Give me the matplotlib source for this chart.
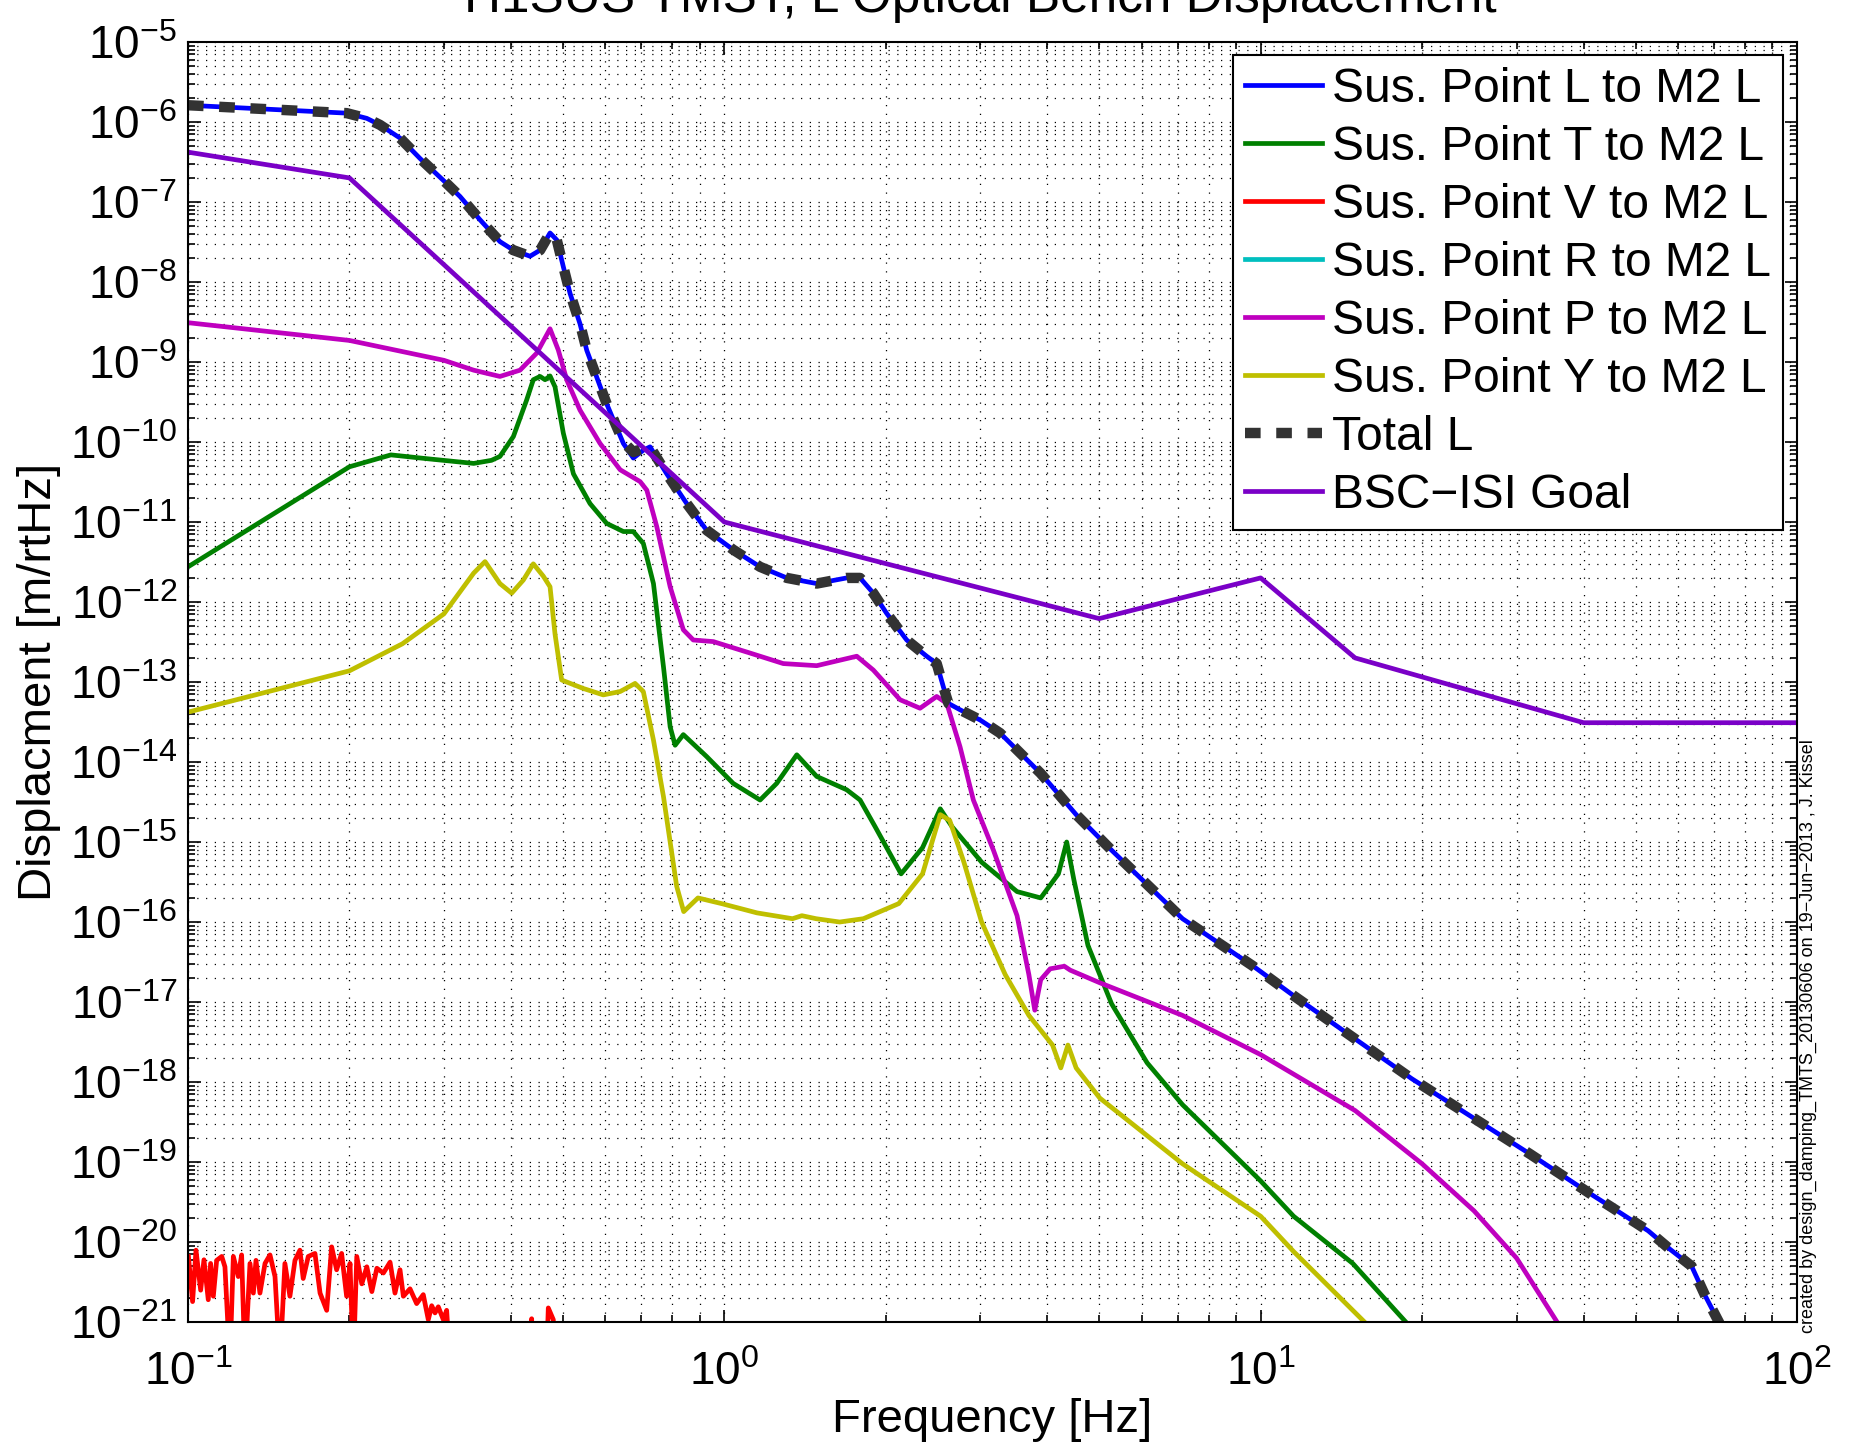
import matplotlib
matplotlib.use("Agg")
import matplotlib.pyplot as plt
from matplotlib.ticker import LogLocator, NullFormatter
import numpy as np

plt.rcParams["font.family"] = ["Liberation Sans", "DejaVu Sans"]
plt.rcParams["mathtext.fontset"] = "custom"
plt.rcParams["mathtext.rm"] = "Liberation Sans"
plt.rcParams["mathtext.it"] = "Liberation Sans"
plt.rcParams["mathtext.bf"] = "Liberation Sans"

# === Data (frequency [Hz], displacement [m/rtHz]) ===
l_freq = [0.1, 0.1977, 0.2155, 0.228, 0.2485, 0.2708, 0.3037, 0.3216, 0.3503, 0.3816,
          0.4043, 0.4343, 0.4534, 0.4732, 0.4872, 0.501, 0.5157, 0.5382, 0.554, 0.5865,
          0.6035, 0.6483, 0.6766, 0.7063, 0.727, 0.781, 0.851, 0.927, 1.039, 1.166,
          1.308, 1.487, 1.691, 1.791, 1.896, 2.008, 2.188, 2.384, 2.489, 2.561,
          2.617, 2.751, 2.999, 3.267, 3.89, 4.529, 5.273, 7.151, 9.69, 11.52,
          19.13, 31.78, 40.96, 45.0, 52.8, 58.0, 63.6, 67.5, 71.5, 75.0]
l_vals = [1.62e-6, 1.29e-6, 1.11e-6, 9.2e-7, 6.3e-7, 3.5e-7, 1.7e-7, 1.17e-7, 6.0e-8, 3.2e-8,
          2.5e-8, 2.1e-8, 2.5e-8, 4.1e-8, 3.35e-8, 1.55e-8, 7.2e-9, 3.0e-9, 1.4e-9, 5.0e-10,
          3.0e-10, 9.6e-11, 6.3e-11, 7.9e-11, 8.7e-11, 4.0e-11, 1.7e-11, 7.9e-12, 4.5e-12, 2.75e-12,
          2.0e-12, 1.7e-12, 2.0e-12, 2.0e-12, 1.29e-12, 7.2e-13, 3.35e-13, 2.1e-13, 1.7e-13, 8.7e-14,
          5.4e-14, 4.5e-14, 3.35e-14, 2.3e-14, 7.2e-15, 2.2e-15, 7.9e-16, 1.1e-16, 2.8e-17, 1.2e-17,
          1.1e-18, 1.26e-19, 4.1e-20, 2.75e-20, 1.38e-20, 8.1e-21, 5.0e-21, 2.1e-21, 1.0e-21, 5e-22]

total_freq = l_freq
total_vals = [1.62e-6, 1.29e-6, 1.11e-6, 9.2e-7, 6.3e-7, 3.5e-7, 1.7e-7, 1.17e-7, 6.0e-8, 3.2e-8,
              2.5e-8, 2.1e-8, 2.5e-8, 4.1e-8, 3.35e-8, 1.55e-8, 7.2e-9, 3.0e-9, 1.4e-9, 5.0e-10,
              3.0e-10, 1.0e-10, 7.5e-11, 8.3e-11, 8.7e-11, 4.0e-11, 1.7e-11, 7.9e-12, 4.5e-12, 2.75e-12,
              2.0e-12, 1.7e-12, 2.0e-12, 2.0e-12, 1.29e-12, 7.2e-13, 3.35e-13, 2.1e-13, 1.7e-13, 8.7e-14,
              5.4e-14, 4.5e-14, 3.35e-14, 2.3e-14, 7.2e-15, 2.2e-15, 7.9e-16, 1.1e-16, 2.8e-17, 1.2e-17,
              1.1e-18, 1.26e-19, 4.1e-20, 2.75e-20, 1.38e-20, 8.1e-21, 5.0e-21, 2.1e-21, 1.0e-21, 5e-22]

t_freq = [0.1, 0.2, 0.239, 0.278, 0.341, 0.368, 0.3816, 0.4043, 0.428, 0.4404,
          0.4534, 0.4632, 0.4732, 0.4834, 0.501, 0.5232, 0.5618, 0.6035, 0.6483, 0.6766,
          0.7063, 0.7377, 0.7701, 0.7925, 0.8096, 0.8386, 0.927, 1.039, 1.166, 1.252,
          1.365, 1.487, 1.691, 1.791, 1.911, 2.136, 2.342, 2.527, 2.659, 3.018,
          3.514, 3.89, 4.197, 4.349, 4.484, 4.764, 5.273, 6.141, 7.151, 10.0,
          11.52, 14.85, 18.65, 20.0]
t_vals = [2.75e-12, 4.9e-11, 6.9e-11, 6.2e-11, 5.4e-11, 5.9e-11, 6.6e-11, 1.17e-10, 3.35e-10, 6.0e-10,
          6.6e-10, 6.0e-10, 6.7e-10, 4.9e-10, 1.29e-10, 4.0e-11, 1.7e-11, 9.6e-12, 7.6e-12, 7.6e-12,
          5.4e-12, 1.7e-12, 1.55e-13, 2.75e-14, 1.62e-14, 2.2e-14, 1.17e-14, 5.4e-15, 3.35e-15, 5.4e-15,
          1.23e-14, 6.6e-15, 4.5e-15, 3.35e-15, 1.55e-15, 4.0e-16, 8.5e-16, 2.6e-15, 1.55e-15, 5.6e-16,
          2.4e-16, 2.0e-16, 4.0e-16, 1.0e-15, 3.4e-16, 5.1e-17, 9.5e-18, 1.74e-18, 5.2e-19, 5.8e-20,
          2.1e-20, 5.4e-21, 1.0e-21, 5e-22]

# vertical: noisy, mostly below the axis floor (nan = gap)
v_freq = [0.1002, 0.102, 0.1035, 0.1056, 0.1071, 0.1091, 0.1102, 0.1115, 0.1131,
          0.1156, 0.1172, 0.1197, 0.1215, 0.1241, 0.1259, 0.1277, 0.1305, 0.1324,
          0.1339, 0.1362, 0.1392, 0.1422, 0.1453, 0.1484, 0.1516, 0.1549, 0.1583,
          0.1617, 0.164, 0.1676, 0.1725, 0.1763, 0.1814, 0.1853, 0.1893, 0.1934,
          0.1976, 0.2005, 0.2034, 0.2064, 0.2109, 0.2155, 0.2202, 0.225, 0.2314,
          0.2381, 0.2432, 0.2485, 0.2521, 0.2594, 0.2669, 0.2746, 0.2806, 0.2847,
          0.2888, 0.2929, 0.2993, 0.3036, 0.308, 0.31,
          0.435, 0.4373, 0.4396, 0.45,
          0.466, 0.4697, 0.4799, 0.482]
v_vals = [6.6e-21, 1.8e-21, 7.9e-21, 2.5e-21, 6.0e-21, 1.9e-21, 5.4e-21, 2.1e-21,
          5.9e-21, 6.6e-21, 4.9e-21, 3e-22, 6.6e-21, 3.7e-21, 6.9e-21, 3e-22,
          5.4e-21, 2.3e-21, 5.9e-21, 2.3e-21, 5.4e-21, 6.9e-21, 3.7e-21, 3e-22,
          5.4e-21, 2.1e-21, 5.9e-21, 7.9e-21, 3.5e-21, 6.6e-21, 7.2e-21, 2.3e-21,
          1.4e-21, 8.7e-21, 4.5e-21, 7.2e-21, 2.1e-21, 5.4e-21, 3e-22, 6.6e-21,
          3.0e-21, 4.9e-21, 2.4e-21, 4.7e-21, 4.1e-21, 5.6e-21, 2.3e-21, 4.5e-21,
          2.1e-21, 2.6e-21, 1.7e-21, 2.2e-21, 1.07e-21, 1.6e-21, 1.3e-21, 1.55e-21,
          1.07e-21, 1.4e-21, 3e-22, np.nan,
          3e-22, 1.1e-21, 3e-22, np.nan,
          3e-22, 1.5e-21, 1.07e-21, 3e-22]

# roll: entirely below the plotted range
r_freq = []
r_vals = []

p_freq = [0.1, 0.2, 0.3, 0.341, 0.3816, 0.4159, 0.4469, 0.4732, 0.4903, 0.5083,
          0.5382, 0.5865, 0.6394, 0.6966, 0.717, 0.7484, 0.7925, 0.8386, 0.8753, 0.9539,
          1.117, 1.288, 1.487, 1.766, 1.896, 2.127, 2.317, 2.489, 2.599, 2.751,
          2.913, 3.175, 3.514, 3.697, 3.792, 3.89, 4.051, 4.305, 4.416, 5.013,
          7.151, 10.0, 15.0, 20.0, 25.0, 30.0, 35.7, 38.0]
p_vals = [3.1e-9, 1.86e-9, 1.05e-9, 7.9e-10, 6.6e-10, 7.9e-10, 1.29e-9, 2.6e-9, 1.41e-9, 6.0e-10,
          2.5e-10, 9.6e-11, 4.5e-11, 3.2e-11, 2.5e-11, 8.7e-12, 1.55e-12, 4.5e-13, 3.35e-13, 3.2e-13,
          2.3e-13, 1.7e-13, 1.6e-13, 2.1e-13, 1.41e-13, 6.0e-14, 4.7e-14, 6.6e-14, 5.4e-14, 1.55e-14,
          3.35e-15, 7.9e-16, 1.2e-16, 2.2e-17, 7.9e-18, 1.9e-17, 2.6e-17, 2.8e-17, 2.5e-17, 1.74e-17,
          6.8e-18, 2.2e-18, 4.4e-19, 9.5e-20, 2.45e-20, 6.3e-21, 1.0e-21, 5e-22]

y_freq = [0.1, 0.2, 0.251, 0.3, 0.341, 0.358, 0.3816, 0.4014, 0.4219, 0.4404,
          0.4598, 0.4732, 0.4834, 0.4974, 0.5083, 0.5459, 0.5947, 0.6394, 0.6817, 0.7063,
          0.7377, 0.7701, 0.815, 0.84, 0.893, 0.988, 1.151, 1.34, 1.395, 1.483,
          1.641, 1.817, 2.115, 2.342, 2.527, 2.632, 2.797, 3.018, 3.34, 3.697,
          4.092, 4.24, 4.372, 4.529, 5.013, 7.151, 10.0, 11.52, 15.62, 17.0]
y_vals = [4.2e-14, 1.38e-13, 3.0e-13, 7.1e-13, 2.3e-12, 3.2e-12, 1.7e-12, 1.29e-12, 1.88e-12, 3.0e-12,
          2.1e-12, 1.55e-12, 4.0e-13, 1.06e-13, 1.0e-13, 8.3e-14, 6.9e-14, 7.6e-14, 9.6e-14, 7.6e-14,
          1.88e-14, 3.7e-15, 2.8e-16, 1.35e-16, 2.0e-16, 1.7e-16, 1.3e-16, 1.1e-16, 1.2e-16, 1.1e-16,
          1.0e-16, 1.1e-16, 1.7e-16, 4.0e-16, 2.2e-15, 1.86e-15, 5.6e-16, 1.0e-16, 2.2e-17, 6.8e-18,
          2.9e-18, 1.5e-18, 2.9e-18, 1.5e-18, 6.3e-19, 9.5e-20, 2.1e-20, 7.6e-21, 1.0e-21, 5e-22]

goal_freq = [0.1, 0.2, 1.0, 5.0, 10.0, 15.0, 40.0, 100.0]
goal_vals = [4.2e-7, 2.0e-7, 1.0e-11, 6.2e-13, 2.0e-12, 2.0e-13, 3.1e-14, 3.1e-14]

# --- Plot ---
fig = plt.figure(figsize=(18.52, 14.48), dpi=100)
ax = fig.add_axes([0.1015, 0.087, 0.8688, 0.884])

lw = 3.4
ax.loglog(l_freq, l_vals, color=(0, 0, 1), lw=lw, label="Sus. Point L to M2 L")
ax.loglog(t_freq, t_vals, color=(0, 0.5, 0), lw=lw, label="Sus. Point T to M2 L")
ax.loglog(v_freq, v_vals, color=(1, 0, 0), lw=lw, label="Sus. Point V to M2 L")
ax.loglog(r_freq, r_vals, color=(0, 0.75, 0.75), lw=lw, label="Sus. Point R to M2 L")
ax.loglog(p_freq, p_vals, color=(0.75, 0, 0.75), lw=lw, label="Sus. Point P to M2 L")
ax.loglog(y_freq, y_vals, color=(0.75, 0.75, 0), lw=lw, label="Sus. Point Y to M2 L")
ax.loglog(total_freq, total_vals, color=(0.2, 0.2, 0.2), lw=7.5, dashes=(1.5, 1.5),
          label="Total L")
ax.loglog(goal_freq, goal_vals, color=(0.48, 0, 0.78), lw=lw, label="BSC\u2212ISI Goal")

ax.set_xlim(0.1, 100)
ax.set_ylim(1e-21, 1e-5)

ax.yaxis.set_major_locator(LogLocator(base=10, numticks=30))
ax.yaxis.set_minor_locator(LogLocator(base=10, subs=np.arange(2, 10), numticks=30))
ax.yaxis.set_minor_formatter(NullFormatter())
ax.xaxis.set_minor_locator(LogLocator(base=10, subs=np.arange(2, 10), numticks=30))
ax.xaxis.set_minor_formatter(NullFormatter())

ax.grid(True, which="both", color="k", linestyle=(0, (1, 6)), linewidth=0.9)
ax.tick_params(which="both", direction="in", top=True, right=True, width=1.2)
ax.tick_params(which="major", length=9, labelsize=33)
ax.tick_params(axis="x", which="major", pad=21)
ax.tick_params(axis="y", which="major", pad=8)
ax.tick_params(which="minor", length=5)
for s in ax.spines.values():
    s.set_linewidth(1.5)

ax.set_xlabel("Frequency [Hz]", fontsize=34, labelpad=2)
ax.set_ylabel("Displacment [m/rtHz]", fontsize=34, labelpad=6)

leg = ax.legend(loc="upper right", bbox_to_anchor=(0.991, 0.9898), borderaxespad=0,
                fontsize=34.5, handlelength=1.6, handletextpad=0.2, labelspacing=0.27,
                borderpad=0.25, fancybox=False, framealpha=1, edgecolor="k")
leg.get_frame().set_linewidth(1.5)

fig.text(980 / 1852, 1 - 12 / 1448, "H1SUS TMST, L Optical Bench Displacement",
         fontsize=37, ha="center", va="baseline")
fig.text(1808 / 1852, (1448 - 1333) / 1448,
         "created by design_damping_TMTS_20130606 on 19\u2212Jun\u22122013 , J. Kissel",
         fontsize=13, rotation=90, ha="center", va="bottom")

fig.savefig("out.png", dpi=100)
